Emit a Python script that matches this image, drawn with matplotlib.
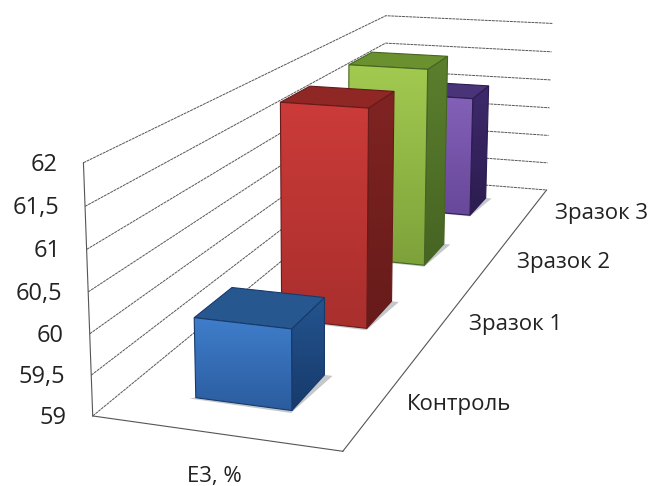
import numpy as np
import matplotlib
matplotlib.use("Agg")
import matplotlib.pyplot as plt
from matplotlib.patches import Polygon

categories = ["Контроль", "Зразок 1", "Зразок 2", "Зразок 3"]
values = [60.0, 62.0, 62.0, 61.0]
tick_values = [59, 59.5, 60, 60.5, 61, 61.5, 62]
tick_labels = ["59", "59,5", "60", "60,5", "61", "61,5", "62"]
series_name = "Е3, %"

front_colors = [("#3f7dca", "#2b5c9f"), ("#cb3b39", "#a92f2d"), ("#a2ca50", "#7ea23a"), ("#8361b8", "#68489a")]
top_colors = ["#27578f", "#8f2725", "#6b912f", "#4a3479"]
side_colors = [("#24548f", "#173a6b"), ("#802422", "#661b1a"), ("#5b7f2d", "#466423"), ("#3e2a6b", "#2c1c50")]

# box corners as seen on screen: (across, depth, height 0..1) -> pixel
box_3d = [(0, 0, 0), (0, 0, 1), (1, 0, 0), (1, 1, 0), (1, 1, 1), (0, 1, 1), (0, 1, 0)]
box_px = [(92, 415), (84, 163), (343, 452), (546, 189), (553, 24), (385, 15), (385, 178)]


def fit_projection(pts, px):
    rows = []
    for (a, b, c), (u, v) in zip(pts, px):
        rows.append([a, b, c, 1, 0, 0, 0, 0, -u * a, -u * b, -u * c, -u])
        rows.append([0, 0, 0, 0, a, b, c, 1, -v * a, -v * b, -v * c, -v])
    return np.linalg.svd(np.array(rows, dtype=float))[2][-1].reshape(3, 4)


cam = fit_projection(box_3d, box_px)
vmin, vmax = tick_values[0], tick_values[-1]


def project(a, b, val):
    p = cam @ np.array([a, b, (val - vmin) / (vmax - vmin), 1.0])
    return p[0] / p[2], p[1] / p[2]


def shaded_face(ax, corners, top, bottom, edge, zorder):
    corners = np.array(corners)
    c0 = np.array(matplotlib.colors.to_rgb(top))
    c1 = np.array(matplotlib.colors.to_rgb(bottom))
    t = np.linspace(0, 1, 64)[:, None]
    img = (c0 * (1 - t) + c1 * t)[:, None, :]
    im = ax.imshow(img, extent=(corners[:, 0].min(), corners[:, 0].max(),
                                corners[:, 1].max(), corners[:, 1].min()),
                   aspect="auto", zorder=zorder, interpolation="bilinear")
    poly = Polygon(corners, closed=True, transform=ax.transData, fc="none", ec="none")
    ax.add_patch(poly)
    im.set_clip_path(poly)
    ax.add_patch(Polygon(corners, closed=True, fc="none", ec=edge, lw=0.8, zorder=zorder))


def draw_bar(ax, i, val):
    a0, a1 = 0.3, 0.7
    b0, b1 = (i + 0.3) / 4, (i + 0.7) / 4
    z = 10 + (4 - i) * 5
    edge = side_colors[i][1]
    # shadow on the floor
    ax.add_patch(Polygon([project(a0 - 0.02, b0 - 0.004, vmin), project(a1 + 0.005, b0 - 0.006, vmin),
                          project(a1 + 0.035, b1, vmin), project(a1, b1, vmin)],
                         fc="#c4c8cc", ec="none", zorder=z))
    shaded_face(ax, [project(a1, b0, val), project(a1, b1, val), project(a1, b1, vmin), project(a1, b0, vmin)],
                side_colors[i][0], side_colors[i][1], edge, z + 1)
    shaded_face(ax, [project(a0, b0, val), project(a0, b1, val), project(a1, b1, val), project(a1, b0, val)],
                top_colors[i], top_colors[i], edge, z + 1)
    shaded_face(ax, [project(a0, b0, val), project(a1, b0, val), project(a1, b0, vmin), project(a0, b0, vmin)],
                front_colors[i][0], front_colors[i][1], edge, z + 2)


fig = plt.figure(figsize=(6.51, 4.86), dpi=100)
ax = fig.add_axes([0, 0, 1, 1])
plt.rcParams["font.family"] = ["Open Sans", "DejaVu Sans"]

# walls and floor
for v in tick_values:
    wall = [project(0, 0, v), project(0, 1, v), project(1, 1, v)]
    ax.plot(*zip(*wall), color="#555555", lw=0.7, ls=(0, (3, 0.7)), zorder=1)
for start, end in [((0, 0, vmin), (0, 0, vmax)), ((0, 0, vmin), (1, 0, vmin)), ((1, 0, vmin), (1, 1, vmin))]:
    ax.plot(*zip(project(*start), project(*end)), color="#555555", lw=0.8, zorder=1)

for i in range(len(values) - 1, -1, -1):
    draw_bar(ax, i, values[i])

for v, lab in zip(tick_values, tick_labels):
    x, y = project(0, 0, v)
    ax.text(x - 26, y + 2, lab, ha="right", va="center", fontsize=17, color="#222222")

for i, lab in enumerate(categories):
    x, y = project(1, (i + 0.5) / 4, vmin)
    ax.text(x + 25, y + 3, lab, ha="left", va="center", fontsize=16, color="#222222")

mid = project(0.5, 0, vmin)
ax.text(mid[0], mid[1] + 43, series_name, ha="center", va="center", fontsize=16, color="#222222")

ax.set_xlim(0, 651)
ax.set_ylim(486, 0)
ax.axis("off")
fig.savefig("out.png", dpi=100)
